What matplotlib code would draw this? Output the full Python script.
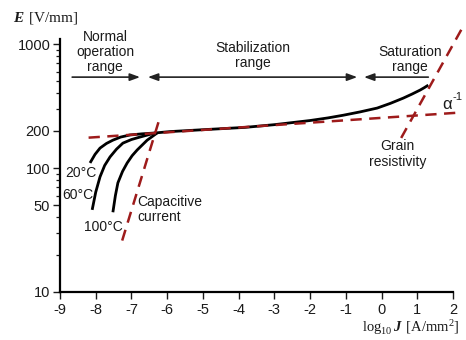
import matplotlib

matplotlib.use("Agg")

import matplotlib.pyplot as plt
from matplotlib.ticker import FixedLocator, NullFormatter

plt.rcParams["font.family"] = ["Liberation Sans", "DejaVu Sans"]
plt.rcParams["mathtext.fontset"] = "custom"
plt.rcParams["mathtext.rm"] = "Liberation Serif"
plt.rcParams["mathtext.bf"] = "Liberation Serif:bold:italic"

INK = "#1a1a1a"
RED = "#9e1b1b"

# curves (log10 J, E in V/mm)
j_20 = [-8.16, -8.02, -7.88, -7.70, -7.52, -7.30, -7.04, -6.70, -6.34,
        -5.92, -5.00, -3.82, -3.00, -2.00, -1.50, -1.07, -0.60, -0.12,
        0.25, 0.61, 0.85, 1.08, 1.20, 1.31]
e_20 = [110, 129, 145, 158, 168, 178, 185, 189, 192,
        197, 204, 213, 224, 242, 254, 267, 284, 305,
        333, 367, 395, 426, 446, 467]
j_60 = [-8.10, -8.00, -7.88, -7.75, -7.60, -7.42, -7.24, -7.00, -6.76, -6.34]
e_60 = [46, 64, 85, 105, 123, 142, 159, 170, 178, 192]
j_100 = [-7.52, -7.45, -7.38, -7.25, -7.12, -6.98, -6.84, -6.56, -6.28]
e_100 = [44, 60, 76, 94, 110, 126, 140, 168, 192]

# dashed asymptotes
j_alpha = [-8.2, 2.15]
e_alpha = [176, 280]
j_cap = [-7.26, -6.20]
e_cap = [26, 258]
j_grain = [0.55, 2.26]
e_grain = [175, 1350]

x_ticks = [-9, -8, -7, -6, -5, -4, -3, -2, -1, 0, 1, 2]
y_ticks = [10, 50, 100, 200, 1000]
y_minor = [20, 30, 40, 60, 70, 80, 90, 300, 400, 500, 600, 700, 800, 900]

fig = plt.figure(figsize=(4.66, 3.4), dpi=100)
ax = fig.add_axes([0.1288, 0.1412, 0.8432, 0.744])

for jj, ee in ((j_20, e_20), (j_60, e_60), (j_100, e_100)):
    ax.plot(jj, ee, color="black", linewidth=2.0, solid_capstyle="butt",
            solid_joinstyle="round")

for jj, ee in ((j_alpha, e_alpha), (j_cap, e_cap), (j_grain, e_grain)):
    ax.plot(jj, ee, color=RED, linewidth=1.8, dashes=(4.5, 3.0), clip_on=False)

ax.set_yscale("log")
ax.set_xlim(-9, 2)
ax.set_ylim(10, 1100)
ax.xaxis.set_major_locator(FixedLocator(x_ticks))
ax.set_xticklabels([str(v) for v in x_ticks])
ax.yaxis.set_major_locator(FixedLocator(y_ticks))
ax.set_yticklabels([str(v) for v in y_ticks])
ax.yaxis.set_minor_locator(FixedLocator(y_minor))
ax.yaxis.set_minor_formatter(NullFormatter())
ax.xaxis.set_minor_locator(FixedLocator([]))

for side in ("top", "right"):
    ax.spines[side].set_visible(False)
for side in ("left", "bottom"):
    ax.spines[side].set_linewidth(1.6)
    ax.spines[side].set_color("black")
ax.tick_params(axis="both", which="major", direction="out", length=5, width=1.0,
               labelsize=10.5, colors=INK, pad=2)
ax.tick_params(axis="x", which="major", pad=3)
ax.tick_params(axis="y", which="minor", direction="out", length=3, width=0.9, colors=INK)

# range arrows
arrow_e = 542
arrow_kw = dict(arrowstyle="-|>,head_length=0.6,head_width=0.22", color="#222222",
                linewidth=1.2, shrinkA=0, shrinkB=0)
ax.annotate("", xy=(-6.76, arrow_e), xytext=(-8.66, arrow_e), arrowprops=arrow_kw)
ax.annotate("", xy=(-0.68, arrow_e), xytext=(-6.54, arrow_e),
            arrowprops=dict(arrow_kw, arrowstyle="<|-|>,head_length=0.6,head_width=0.22"))
ax.annotate("", xy=(-0.49, arrow_e), xytext=(1.31, arrow_e), arrowprops=arrow_kw)

txt = dict(fontsize=10, color=INK, linespacing=1.1)
ax.text(-7.74, 861, "Normal\noperation\nrange", ha="center", va="center", **txt)
ax.text(-3.6, 807, "Stabilization\nrange", ha="center", va="center", **txt)
ax.text(0.8, 757, "Saturation\nrange", ha="center", va="center", **txt)
ax.text(0.44, 130, "Grain\nresistivity", ha="center", va="center", **txt)
ax.text(-6.84, 46, "Capacitive\ncurrent", ha="left", va="center", **txt)
ax.text(-8.41, 91, "20°C", ha="center", va="center", **txt)
ax.text(-8.5, 61, "60°C", ha="center", va="center", **txt)
ax.text(-7.8, 33.5, "100°C", ha="center", va="center", **txt)
ax.text(1.84, 328, "α", ha="center", va="center", fontsize=12, color=INK)
ax.text(2.12, 374, "-1", ha="center", va="center", fontsize=8, color=INK)

fig.text(0.028, 0.947, r"$\mathbf{E}\ \mathrm{[V/mm]}$", ha="left", va="center",
         fontsize=11, color=INK)
fig.text(0.987, 0.036, r"$\mathrm{log}_{10}\,\mathbf{J}\ \mathrm{[A/mm^{2}]}$",
         ha="right", va="center", fontsize=10.5, color=INK)

fig.savefig("out.png", dpi=100)
